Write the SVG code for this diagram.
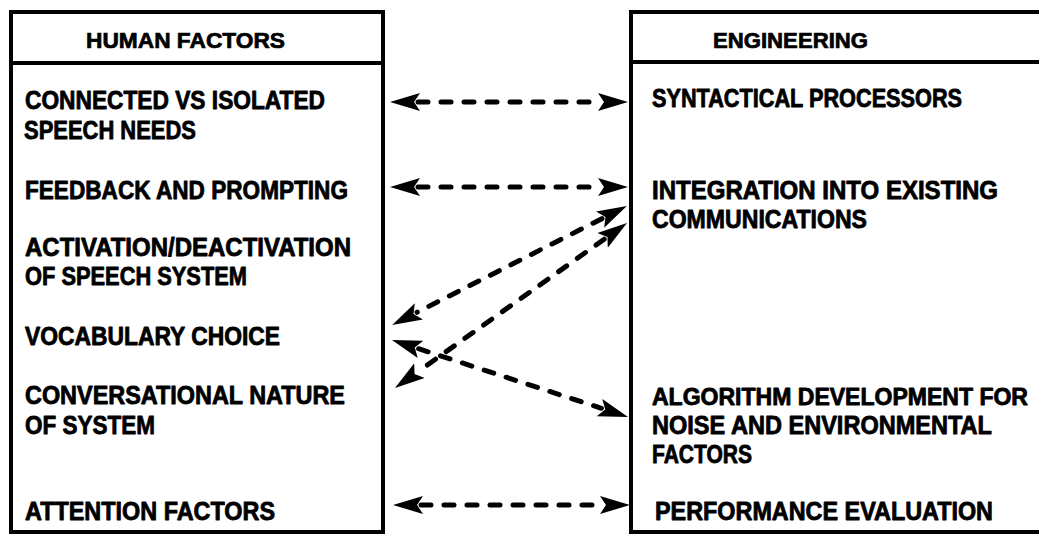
<svg xmlns="http://www.w3.org/2000/svg" width="1039" height="536" viewBox="0 0 1039 536">
<style>
.box{fill:none;stroke:#000;stroke-width:4}
.t{font-family:"Liberation Sans",Arial,sans-serif;font-weight:bold;font-size:25px;fill:#000;stroke:#000;stroke-width:0.8;stroke-linejoin:round}
.h{font-family:"Liberation Sans",Arial,sans-serif;font-weight:bold;font-size:22px;fill:#000;stroke:#000;stroke-width:0.7;stroke-linejoin:round}
.c{fill:none;stroke:#000;stroke-width:5;stroke-linecap:round;stroke-dasharray:10 13;marker-start:url(#ah);marker-end:url(#ah)}
</style>
<defs>
<marker id="ah" markerUnits="userSpaceOnUse" markerWidth="36" markerHeight="26" viewBox="0 -13 36 26" refX="2" refY="0" orient="auto-start-reverse">
<path d="M0,-9 L30,0 L0,9 L6,0 Z" fill="#000"/>
</marker>
</defs>
<rect width="1039" height="536" fill="#fff"/>
<g id="human-factors">
<rect class="box" x="11" y="12" width="372" height="520"/>
<line class="box" x1="11" y1="63" x2="383" y2="63"/>
<text class="h" x="86" y="48" textLength="199" lengthAdjust="spacingAndGlyphs">HUMAN FACTORS</text>
<text class="t" x="25" y="109" textLength="300" lengthAdjust="spacingAndGlyphs">CONNECTED VS ISOLATED</text>
<text class="t" x="24" y="139" textLength="172" lengthAdjust="spacingAndGlyphs">SPEECH NEEDS</text>
<text class="t" x="25" y="199" textLength="323" lengthAdjust="spacingAndGlyphs">FEEDBACK AND PROMPTING</text>
<text class="t" x="25" y="256" textLength="326" lengthAdjust="spacingAndGlyphs">ACTIVATION/DEACTIVATION</text>
<text class="t" x="25" y="285" textLength="222" lengthAdjust="spacingAndGlyphs">OF SPEECH SYSTEM</text>
<text class="t" x="25" y="345" textLength="255" lengthAdjust="spacingAndGlyphs">VOCABULARY CHOICE</text>
<text class="t" x="25" y="404" textLength="320" lengthAdjust="spacingAndGlyphs">CONVERSATIONAL NATURE</text>
<text class="t" x="25" y="434" textLength="130" lengthAdjust="spacingAndGlyphs">OF SYSTEM</text>
<text class="t" x="25" y="520" textLength="250" lengthAdjust="spacingAndGlyphs">ATTENTION FACTORS</text>
</g>
<g id="engineering">
<rect class="box" x="631" y="12" width="420" height="520"/>
<line class="box" x1="631" y1="62" x2="1045" y2="62"/>
<text class="h" x="713" y="48" textLength="155" lengthAdjust="spacingAndGlyphs">ENGINEERING</text>
<text class="t" x="652" y="107" textLength="310" lengthAdjust="spacingAndGlyphs">SYNTACTICAL PROCESSORS</text>
<text class="t" x="652" y="199" textLength="346" lengthAdjust="spacingAndGlyphs">INTEGRATION INTO EXISTING</text>
<text class="t" x="652" y="228" textLength="215" lengthAdjust="spacingAndGlyphs">COMMUNICATIONS</text>
<text class="t" x="652" y="405" style="font-size:23px" textLength="376" lengthAdjust="spacingAndGlyphs">ALGORITHM DEVELOPMENT FOR</text>
<text class="t" x="652" y="434" textLength="340" lengthAdjust="spacingAndGlyphs">NOISE AND ENVIRONMENTAL</text>
<text class="t" x="652" y="463" textLength="100" lengthAdjust="spacingAndGlyphs">FACTORS</text>
<text class="t" x="655" y="520" textLength="338" lengthAdjust="spacingAndGlyphs">PERFORMANCE EVALUATION</text>
</g>
<g id="connectors">
<line class="c" x1="418" y1="102" x2="600" y2="102"/>
<line class="c" x1="418" y1="187" x2="600" y2="187"/>
<line class="c" x1="421" y1="505" x2="602" y2="505"/>
<line class="c" x1="601.9" y1="218.7" x2="417.1" y2="312.3"/>
<line class="c" x1="604.2" y1="239.2" x2="417.8" y2="371.8"/>
<line class="c" x1="418.6" y1="348.7" x2="601.4" y2="408.3"/>
</g>
</svg>
